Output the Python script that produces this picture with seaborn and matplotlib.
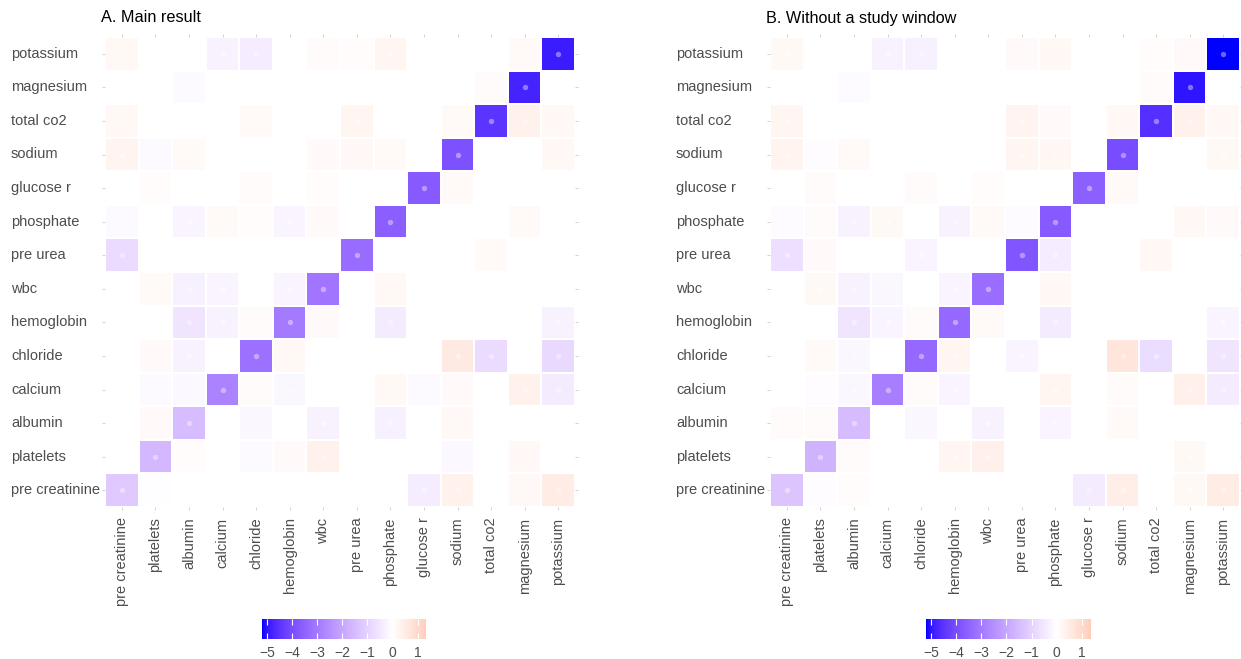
import numpy as np
import pandas as pd
import matplotlib
matplotlib.use("Agg")
import matplotlib.pyplot as plt
import seaborn as sns
from matplotlib.colors import ListedColormap, Normalize
from matplotlib.cm import ScalarMappable

n = np.nan
labels = ["pre creatinine", "platelets", "albumin", "calcium", "chloride", "hemoglobin",
          "wbc", "pre urea", "phosphate", "glucose r", "sodium", "total co2", "magnesium", "potassium"]
row_labels = labels[::-1]

# Panel A values (rows top->bottom = row_labels, columns left->right = labels)
main_result = [
    [0.2, n, n, -0.3, -0.4, n, 0.1, 0.08, 0.25, n, n, n, 0.15, -4.9],
    [n, n, -0.1, n, n, n, n, n, n, n, n, 0.1, -4.8, n],
    [0.2, n, n, n, 0.15, n, n, 0.25, n, n, 0.15, -4.5, 0.35, 0.2],
    [0.3, -0.1, 0.15, n, n, n, 0.12, 0.18, 0.15, n, -3.9, n, n, 0.2],
    [n, 0.08, n, n, 0.1, n, 0.08, n, n, -3.7, 0.15, n, n, n],
    [-0.1, n, -0.25, 0.15, 0.07, -0.25, 0.12, n, -3.6, n, n, n, 0.15, n],
    [-0.8, n, n, n, n, n, n, -3.3, n, n, n, 0.15, n, n],
    [n, 0.15, -0.35, -0.25, n, -0.25, -3.1, n, 0.2, n, n, n, n, n],
    [n, n, -0.6, -0.3, 0.1, -3.0, 0.12, n, -0.45, n, n, n, n, -0.3],
    [n, 0.12, -0.3, n, -3.2, 0.2, n, n, n, n, 0.55, -0.8, n, -0.85],
    [n, -0.1, -0.15, -2.8, 0.1, -0.2, n, n, 0.2, -0.1, 0.12, n, 0.35, -0.45],
    [n, 0.12, -1.5, n, -0.2, n, -0.3, n, -0.35, n, 0.18, n, n, n],
    [n, -1.6, 0.07, n, -0.1, 0.12, 0.35, n, n, n, -0.15, n, 0.17, n],
    [-1.2, -0.07, n, n, n, n, n, n, n, -0.4, 0.35, n, 0.18, 0.5],
]

# Panel B values
no_window = [
    [0.18, n, n, -0.3, -0.35, n, n, 0.12, 0.2, n, n, 0.06, 0.12, -5.2],
    [n, n, -0.1, n, n, n, n, n, n, n, n, 0.08, -5.0, n],
    [0.25, n, n, n, n, n, n, 0.3, 0.12, n, 0.2, -4.6, 0.35, 0.2],
    [0.3, -0.07, 0.15, n, n, n, n, 0.25, 0.22, n, -4.0, n, n, 0.17],
    [n, 0.1, n, n, 0.1, n, 0.07, n, n, -3.6, 0.15, n, n, n],
    [-0.1, 0.1, -0.3, 0.17, n, -0.3, 0.15, -0.1, -3.7, n, n, n, 0.2, 0.12],
    [-0.7, 0.12, n, n, -0.25, n, n, -3.8, -0.4, n, n, 0.2, n, n],
    [n, 0.17, -0.3, -0.2, n, -0.25, -3.3, n, 0.2, n, n, n, n, n],
    [n, n, -0.6, -0.25, 0.1, -3.4, 0.15, n, -0.45, n, n, n, n, -0.25],
    [n, 0.15, -0.2, n, -3.4, 0.25, n, -0.25, n, n, 0.7, -0.75, n, -0.6],
    [n, -0.05, -0.2, -2.9, 0.1, -0.25, n, n, 0.25, n, 0.1, n, 0.4, -0.45],
    [0.1, 0.1, -1.5, n, -0.2, n, -0.3, n, -0.25, n, 0.15, n, n, n],
    [n, -1.7, 0.1, n, n, 0.25, 0.4, n, n, n, n, n, 0.17, n],
    [-1.3, -0.07, 0.06, n, n, n, n, n, n, -0.45, 0.45, n, 0.18, 0.5],
]

titles = ["A. Main result", "B. Without a study window"]
limits = [(-5.2, 1.33), (-5.2, 1.36)]
cbar_ticks = [-5, -4, -3, -2, -1, 0, 1]
cbar_ticklabels = ["\u22125", "\u22124", "\u22123", "\u22122", "\u22121", "0", "1"]


# ---- Lab interpolation (like ggplot's scale_fill_gradient2) ----
_WHITE = np.array([0.95047, 1.0, 1.08883])
_M = np.array([[0.4124564, 0.3575761, 0.1804375],
               [0.2126729, 0.7151522, 0.0721750],
               [0.0193339, 0.1191920, 0.9503041]])
_Minv = np.linalg.inv(_M)


def srgb_to_lab(rgb):
    rgb = np.asarray(rgb, float)
    lin = np.where(rgb <= 0.04045, rgb / 12.92, ((rgb + 0.055) / 1.055) ** 2.4)
    xyz = _M @ lin / _WHITE
    d = 6 / 29
    f = np.where(xyz > d ** 3, np.cbrt(xyz), xyz / (3 * d * d) + 4 / 29)
    return np.array([116 * f[1] - 16, 500 * (f[0] - f[1]), 200 * (f[1] - f[2])])


def lab_to_srgb(lab):
    L, a, b = lab
    fy = (L + 16) / 116
    fx = fy + a / 500
    fz = fy - b / 200
    d = 6 / 29
    f = np.array([fx, fy, fz])
    xyz = np.where(f > d, f ** 3, 3 * d * d * (f - 4 / 29)) * _WHITE
    lin = _Minv @ xyz
    lin = np.clip(lin, 0, 1)
    rgb = np.where(lin <= 0.0031308, 12.92 * lin, 1.055 * lin ** (1 / 2.4) - 0.055)
    return np.clip(rgb, 0, 1)


LOW, MID, HIGH = srgb_to_lab([0, 0, 1]), srgb_to_lab([1, 1, 1]), srgb_to_lab([1, 0, 0])


def make_cmap(vmin, vmax):
    m = max(abs(vmin), abs(vmax))
    t0 = 0.5 + vmin / (2 * m)
    t1 = 0.5 + vmax / (2 * m)
    cols = []
    for t in np.linspace(t0, t1, 256):
        if t < 0.5:
            s = t / 0.5
            lab = LOW + (MID - LOW) * s
        else:
            s = (t - 0.5) / 0.5
            lab = MID + (HIGH - MID) * s
        cols.append(lab_to_srgb(lab))
    return ListedColormap(cols)


plt.rcParams["font.family"] = ["Liberation Sans", "DejaVu Sans"]
W, H = 1241, 659
fig = plt.figure(figsize=(W / 100, H / 100), dpi=100)


def px_axes(x0, y0, x1, y1):
    return fig.add_axes([x0 / W, 1 - y1 / H, (x1 - x0) / W, (y1 - y0) / H])


ax_boxes = [(105, 37, 575, 507), (770, 37, 1240, 507)]
cb_boxes = [(262, 619, 426, 639), (926, 619, 1091, 639)]
title_x = [101, 766]
label_x = [11, 676]

for k, data in enumerate([main_result, no_window]):
    df = pd.DataFrame(np.array(data, float), index=row_labels, columns=labels)
    vmin, vmax = limits[k]
    cmap = make_cmap(vmin, vmax)
    ax = px_axes(*ax_boxes[k])
    sns.heatmap(df, ax=ax, cmap=cmap, vmin=vmin, vmax=vmax, cbar=False,
                linewidths=1.2, linecolor="white", square=False)
    # centre dots
    vals = df.values
    rr, cc = np.where(~np.isnan(vals))
    ax.scatter(cc + 0.5, rr + 0.5, s=15, color="white", alpha=0.4, linewidths=0, zorder=3)
    ax.set_xlim(0, 14)
    ax.set_ylim(14, 0)
    ax.set_xlabel("")
    ax.set_ylabel("")
    ax.tick_params(axis="both", which="both", length=2.5, width=0.6, color="#cccccc",
                   top=True, right=True, bottom=True, left=True,
                   labeltop=False, labelright=False)
    ax.set_xticks(np.arange(14) + 0.5)
    ax.set_xticklabels(labels, rotation=90, fontsize=10.5, color="#4d4d4d")
    ax.tick_params(axis="x", pad=5)
    ax.set_yticks(np.arange(14) + 0.5)
    ax.set_yticklabels(row_labels, fontsize=10.5, color="#4d4d4d", ha="left", va="center")
    ylab_pad_px = (ax_boxes[k][0] - label_x[k]) - 2.5 / 0.72
    ax.tick_params(axis="y", pad=ylab_pad_px * 0.72)
    for sp in ax.spines.values():
        sp.set_visible(False)
    fig.text(title_x[k] / W, 1 - 18 / H, titles[k], fontsize=11.7, color="black",
             ha="left", va="center")

    # colourbar
    cax = px_axes(*cb_boxes[k])
    cb = fig.colorbar(ScalarMappable(norm=Normalize(vmin, vmax), cmap=cmap), cax=cax,
                      orientation="horizontal", ticks=cbar_ticks)
    cb.outline.set_visible(False)
    cax.tick_params(axis="x", direction="in", length=4, width=0.8, color="white",
                    top=True, bottom=True, labelsize=10, labelcolor="#4d4d4d", pad=5)
    cax.set_xticklabels(cbar_ticklabels)

fig.savefig("out.png", dpi=100, facecolor="white")
